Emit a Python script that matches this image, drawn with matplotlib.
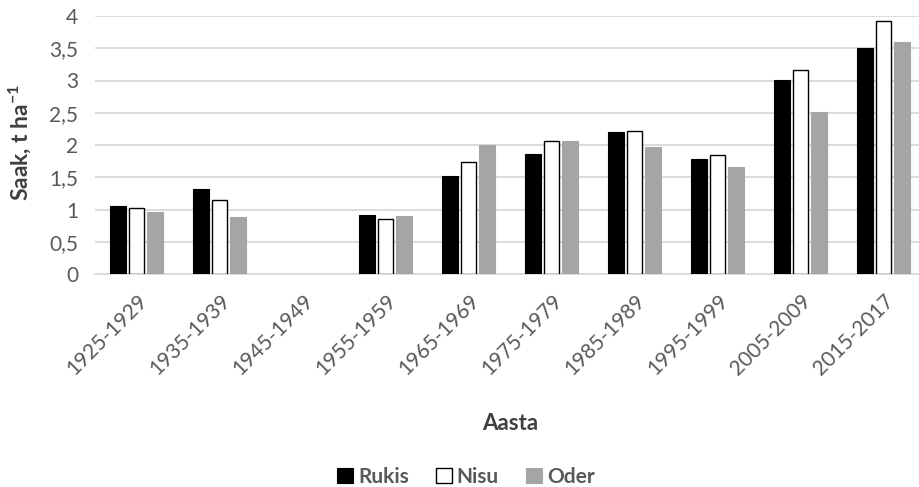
import matplotlib
matplotlib.use("Agg")
import matplotlib.pyplot as plt
import numpy as np

categories = ["1925-1929", "1935-1939", "1945-1949", "1955-1959", "1965-1969",
              "1975-1979", "1985-1989", "1995-1999", "2005-2009", "2015-2017"]
rukis = [1.05, 1.32, np.nan, 0.91, 1.52, 1.86, 2.20, 1.79, 3.01, 3.50]
nisu = [1.03, 1.15, np.nan, 0.85, 1.73, 2.06, 2.22, 1.85, 3.17, 3.93]
oder = [0.96, 0.89, np.nan, 0.90, 2.00, 2.06, 1.97, 1.66, 2.51, 3.60]
series_names = ["Rukis", "Nisu", "Oder"]
y_ticks = [0, 0.5, 1, 1.5, 2, 2.5, 3, 3.5, 4]
y_tick_labels = ["0", "0,5", "1", "1,5", "2", "2,5", "3", "3,5", "4"]

FONT = 'Lato'
plt.rcParams['font.family'] = [FONT, 'DejaVu Sans']
plt.rcParams['mathtext.fontset'] = 'custom'
plt.rcParams['mathtext.bf'] = FONT + ':bold'
plt.rcParams['mathtext.rm'] = FONT + ':bold'
plt.rcParams['mathtext.default'] = 'bf'

fig = plt.figure(figsize=(9.19, 4.87), dpi=100)
ax = fig.add_axes([95/919, (487-274)/487, 824/919, (274-16)/487])

x = np.arange(len(categories))
w = 0.19
off = 0.222
ax.bar(x - off, rukis, w, color="black", edgecolor="black", linewidth=0.8, label=series_names[0], zorder=3)
ax.bar(x, nisu, w, color="white", edgecolor="black", linewidth=1.0, label=series_names[1], zorder=3)
ax.bar(x + off, oder, w, color="#A5A5A5", edgecolor="#A5A5A5", linewidth=0.8, label=series_names[2], zorder=3)

ax.set_xlim(-0.5, -0.5 + 824/83)
ax.set_ylim(0, 4)
ax.set_yticks(y_ticks)
ax.set_yticklabels(y_tick_labels)
ax.grid(axis='y', color="#D9D9D9", linewidth=1.3, zorder=0)
for s in ["top", "right", "left"]:
    ax.spines[s].set_visible(False)
ax.spines["bottom"].set_color("#D9D9D9")
ax.spines["bottom"].set_linewidth(1.3)
ax.tick_params(axis='both', length=0, colors="#595959", labelsize=15)
ax.tick_params(axis='y', pad=12)
ax.set_xticks(x)
ax.set_xticklabels(categories, rotation=45, ha='right', rotation_mode='anchor')
ax.tick_params(axis='x', pad=12)

fig.text(20/919, 1 - 142/487, r"Saak, t ha$^{-1}$", rotation=90, ha='center', va='center',
         fontsize=16.5, fontweight='bold', color="#404040")
fig.text(510/919, 1 - 423/487, "Aasta", ha='center', va='center',
         fontsize=16, fontweight='bold', color="#404040")

leg = fig.legend(loc='center', bbox_to_anchor=(466/919, 1 - 477/487), ncol=3, frameon=False,
                 handlelength=0.75, handleheight=0.75, handletextpad=0.25, columnspacing=1.3,
                 prop={'weight': 'bold', 'size': 15})
for t in leg.get_texts():
    t.set_color("#595959")

fig.savefig("out.png", dpi=100)
